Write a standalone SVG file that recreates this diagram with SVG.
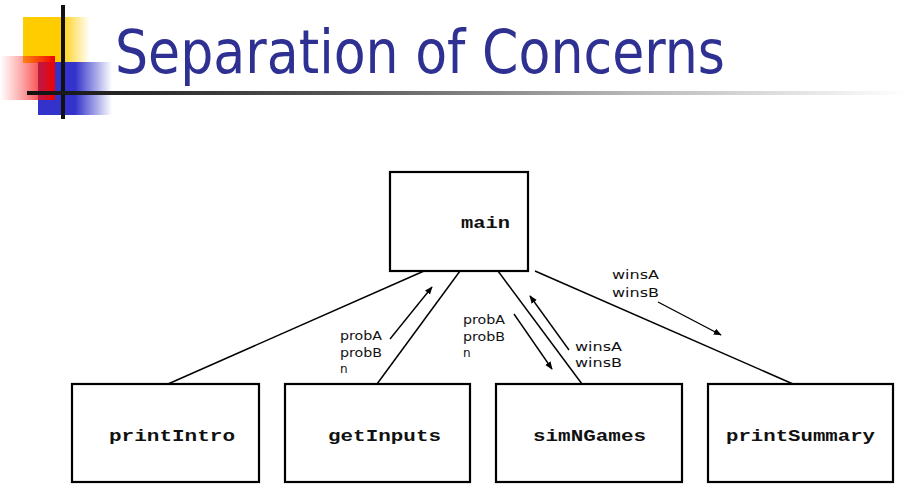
<svg xmlns="http://www.w3.org/2000/svg" width="918" height="503" viewBox="0 0 918 503">
  <style>
    .box { fill: #ffffff; stroke: #000000; stroke-width: 2.2; }
    .name { font-family: "Liberation Mono", monospace; font-weight: bold; font-size: 17px; fill: #111111; }
    .lbl { font-family: "DejaVu Sans", "Liberation Sans", sans-serif; font-size: 12px; fill: #111111; }
    .edge { stroke: #000000; stroke-width: 1.5; fill: none; }
    .flow { stroke: #000000; stroke-width: 1.4; fill: none; marker-end: url(#head); }
    .title { font-family: "DejaVu Sans", "Liberation Sans", sans-serif; font-size: 60px; fill: #2e3192; }
  </style>
  <defs>
    <marker id="head" viewBox="0 0 10 10" refX="9" refY="5" markerWidth="8" markerHeight="8" markerUnits="userSpaceOnUse" orient="auto">
      <path d="M0,1 L10,5 L0,9 z" fill="#000000"/>
    </marker>
    <linearGradient id="yellowFade" x1="0" y1="0" x2="1" y2="0">
      <stop offset="0" stop-color="#ffcc00"/>
      <stop offset="0.55" stop-color="#ffcc00"/>
      <stop offset="1" stop-color="#ffcc00" stop-opacity="0"/>
    </linearGradient>
    <linearGradient id="redFade" x1="0" y1="0" x2="1" y2="0">
      <stop offset="0" stop-color="#ff3333" stop-opacity="0"/>
      <stop offset="1" stop-color="#ee0000"/>
    </linearGradient>
    <linearGradient id="blueFade" x1="0" y1="0" x2="1" y2="0">
      <stop offset="0" stop-color="#3333cc"/>
      <stop offset="0.5" stop-color="#3333cc"/>
      <stop offset="1" stop-color="#3333cc" stop-opacity="0"/>
    </linearGradient>
    <linearGradient id="ruleFade" x1="0" y1="0" x2="1" y2="0">
      <stop offset="0" stop-color="#111111"/>
      <stop offset="0.35" stop-color="#555555"/>
      <stop offset="0.7" stop-color="#bbbbbb"/>
      <stop offset="1" stop-color="#ffffff"/>
    </linearGradient>
  </defs>

  <rect width="918" height="503" fill="#ffffff"/>

  <!-- header ornament -->
  <g id="ornament">
    <rect x="23" y="17" width="67" height="46" fill="url(#yellowFade)"/>
    <rect x="38" y="62" width="74" height="53" fill="url(#blueFade)"/>
    <rect x="0" y="56" width="55" height="44" fill="url(#redFade)"/>
    <rect x="61" y="5" width="4" height="114" fill="#111111"/>
    <rect x="27" y="91" width="880" height="4" fill="url(#ruleFade)"/>
  </g>

  <text class="title" x="115" y="73" textLength="610" lengthAdjust="spacingAndGlyphs">Separation of Concerns</text>

  <!-- call structure -->
  <g id="connectors">
    <line class="edge" x1="424" y1="271" x2="168" y2="384"/>
    <line class="edge" x1="460" y1="271" x2="377" y2="384"/>
    <line class="edge" x1="498" y1="271" x2="582" y2="384"/>
    <line class="edge" x1="535" y1="271" x2="793" y2="384"/>
    <line class="flow" x1="390" y1="339" x2="432" y2="287"/>
    <line class="flow" x1="514" y1="314" x2="552" y2="369"/>
    <line class="flow" x1="569" y1="350" x2="530" y2="296"/>
    <line class="flow" x1="658" y1="302" x2="721" y2="335"/>
  </g>

  <g id="data-labels">
    <text class="lbl" x="340" y="340" textLength="42" lengthAdjust="spacingAndGlyphs">probA</text>
    <text class="lbl" x="340" y="357" textLength="42" lengthAdjust="spacingAndGlyphs">probB</text>
    <text class="lbl" x="340" y="373">n</text>
    <text class="lbl" x="463" y="324" textLength="42" lengthAdjust="spacingAndGlyphs">probA</text>
    <text class="lbl" x="463" y="341" textLength="42" lengthAdjust="spacingAndGlyphs">probB</text>
    <text class="lbl" x="463" y="357">n</text>
    <text class="lbl" x="575" y="351" textLength="47" lengthAdjust="spacingAndGlyphs">winsA</text>
    <text class="lbl" x="575" y="367" textLength="47" lengthAdjust="spacingAndGlyphs">winsB</text>
    <text class="lbl" x="612" y="279" textLength="47" lengthAdjust="spacingAndGlyphs">winsA</text>
    <text class="lbl" x="612" y="297" textLength="47" lengthAdjust="spacingAndGlyphs">winsB</text>
  </g>

  <g id="main">
    <rect class="box" x="390" y="172" width="138" height="99"/>
    <text class="name" x="461" y="228" textLength="49" lengthAdjust="spacingAndGlyphs">main</text>
  </g>
  <g id="printIntro">
    <rect class="box" x="72" y="384" width="187" height="98"/>
    <text class="name" x="109" y="441" textLength="126" lengthAdjust="spacingAndGlyphs">printIntro</text>
  </g>
  <g id="getInputs">
    <rect class="box" x="285" y="384" width="185" height="98"/>
    <text class="name" x="328" y="441" textLength="113" lengthAdjust="spacingAndGlyphs">getInputs</text>
  </g>
  <g id="simNGames">
    <rect class="box" x="496" y="384" width="186" height="98"/>
    <text class="name" x="533" y="441" textLength="113" lengthAdjust="spacingAndGlyphs">simNGames</text>
  </g>
  <g id="printSummary">
    <rect class="box" x="708" y="384" width="185" height="98"/>
    <text class="name" x="726" y="441" textLength="149" lengthAdjust="spacingAndGlyphs">printSummary</text>
  </g>
</svg>
